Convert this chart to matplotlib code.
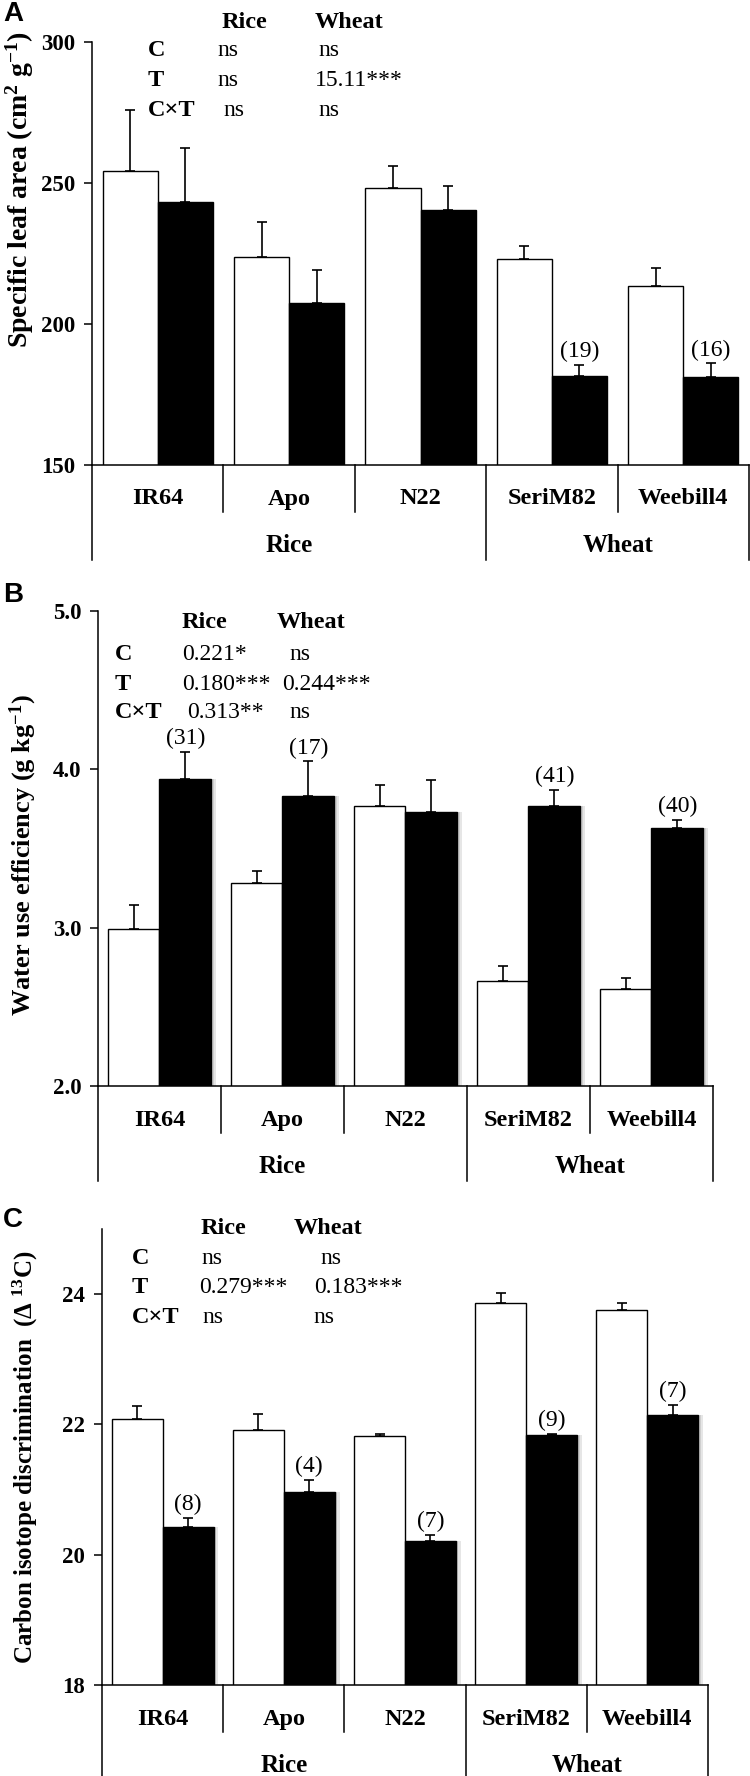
import matplotlib
matplotlib.use("Agg")
from matplotlib import pyplot as plt
from matplotlib.transforms import blended_transform_factory

W, H = 750, 1776

plt.rcParams['font.family'] = ['Liberation Serif', 'DejaVu Serif']
plt.rcParams['mathtext.fontset'] = 'custom'
plt.rcParams['mathtext.rm'] = 'Liberation Serif:bold'
plt.rcParams['mathtext.it'] = 'Liberation Serif:bold'
plt.rcParams['mathtext.bf'] = 'Liberation Serif:bold'

cultivars = ["IR64", "Apo", "N22", "SeriM82", "Weebill4"]
groups = ["Rice", "Wheat"]
group_centers = [1.0, 3.5]

# A - specific leaf area
sla_white = [254.3, 223.7, 248.3, 223.1, 213.6]
sla_white_err = [21.6, 12.3, 7.9, 4.5, 6.2]
sla_black = [243.3, 207.6, 240.5, 181.6, 181.2]
sla_black_err = [19.1, 11.6, 8.3, 3.9, 4.8]
sla_n = ["", "", "", "(19)", "(16)"]
sla_stats = [["ns", "ns"], ["ns", "15.11***"], ["ns", "ns"]]

# B - water use efficiency
wue_white = [2.99, 3.28, 3.77, 2.66, 2.61]
wue_white_err = [0.15, 0.08, 0.13, 0.10, 0.07]
wue_black = [3.94, 3.83, 3.73, 3.77, 3.63]
wue_black_err = [0.17, 0.22, 0.20, 0.10, 0.05]
wue_n = ["(31)", "(17)", "", "(41)", "(40)"]
wue_stats = [["0.221*", "ns"], ["0.180***", "0.244***"], ["0.313**", "ns"]]

# C - carbon isotope discrimination
cid_white = [22.09, 21.92, 21.83, 23.86, 23.76]
cid_white_err = [0.19, 0.24, 0.03, 0.15, 0.10]
cid_black = [20.43, 20.96, 20.21, 21.84, 22.14]
cid_black_err = [0.13, 0.19, 0.10, 0.02, 0.16]
cid_n = ["(8)", "(4)", "(7)", "(9)", "(7)"]
cid_stats = [["ns", "ns"], ["0.279***", "0.183***"], ["ns", "ns"]]

row_names = ["C", "T", "C×T"]


def fx(x):
    return x / W


def fy(y):
    return 1 - y / H


def make_axes(fig, left, top, right, bottom):
    return fig.add_axes([fx(left), fy(bottom), (right - left) / W, (bottom - top) / H])


def draw_panel(ax, box, ylim, yticks, ticklabels, white, werr, black, berr, nlab, shadow=False):
    left, top, right, bottom = box
    hpx = bottom - top
    x = list(range(len(cultivars)))
    w = 0.42
    xw = [i - w / 2 for i in x]
    xb = [i + w / 2 for i in x]

    if shadow:
        ax.bar([v + 0.04 for v in xb], black, width=w, color='#e6e6e6', zorder=1)
        ax.bar([v + 0.02 for v in xb], black, width=w, color='#cfcfcf', zorder=1)
    ax.bar(xw, white, width=w, color='white', edgecolor='black', linewidth=1.0, zorder=2)
    ax.bar(xb, black, width=w, color='black', edgecolor='black', linewidth=1.0, zorder=2)
    ax.errorbar(xw, white, yerr=[[0] * 5, werr], fmt='none', ecolor='black',
                elinewidth=1.2, capsize=3.4, capthick=1.2, zorder=3)
    ax.errorbar(xb, black, yerr=[[0] * 5, berr], fmt='none', ecolor='black',
                elinewidth=1.2, capsize=3.4, capthick=1.2, zorder=3)
    for xi, yi, ei, t in zip(xb, black, berr, nlab):
        if t:
            ax.annotate(t, (xi, yi + ei), xytext=(0, 2), textcoords='offset points',
                        ha='center', va='bottom', fontsize=17)

    ax.set_xlim(-0.5, 4.5)
    ax.set_ylim(*ylim)
    ax.set_yticks(yticks)
    ax.set_yticklabels(ticklabels, fontsize=16.5, fontweight='bold')
    ax.set_xticks([])
    ax.tick_params(axis='y', direction='out', length=6, width=1.1, pad=6)
    for s in ['top', 'right']:
        ax.spines[s].set_visible(False)
    ax.spines['left'].set_linewidth(1.1)
    ax.spines['bottom'].set_linewidth(1.1)

    # category / group axis below the bars
    tr = blended_transform_factory(ax.transData, ax.transAxes)
    def yoff(px):
        return -px / hpx
    for xd in [0.5, 1.5, 3.5]:
        ax.plot([xd, xd], [0, yoff(47)], color='black', lw=1.1, transform=tr, clip_on=False)
    for xd in [-0.5, 2.5, 4.5]:
        ax.plot([xd, xd], [0, yoff(95)], color='black', lw=1.1, transform=tr, clip_on=False)
    for i, name in enumerate(cultivars):
        ax.text(i, yoff(34), name, transform=tr, ha='center', va='center',
                fontsize=17.5, fontweight='bold')
    for xc, g in zip(group_centers, groups):
        ax.text(xc, yoff(80), g, transform=tr, ha='center', va='center',
                fontsize=18, fontweight='bold')


def draw_stats(fig, xlab, xvals, yhead, yrows, stats, xhdr):
    fig.text(fx(xhdr[0]), fy(yhead), "Rice", ha='left', va='center', fontsize=17.5, fontweight='bold')
    fig.text(fx(xhdr[1]), fy(yhead), "Wheat", ha='left', va='center', fontsize=17.5, fontweight='bold')
    for k, (rn, vals) in enumerate(zip(row_names, stats)):
        y = yrows[k]
        fig.text(fx(xlab), fy(y), rn, ha='left', va='center', fontsize=17.5, fontweight='bold')
        fig.text(fx(xvals[k][0]), fy(y), vals[0], ha='left', va='center', fontsize=17)
        fig.text(fx(xvals[k][1]), fy(y), vals[1], ha='left', va='center', fontsize=17)


fig = plt.figure(figsize=(W / 100, H / 100), dpi=100)

# panel A
boxA = (92, 42, 749, 465)
axA = make_axes(fig, *boxA)
draw_panel(axA, boxA, (150, 300), [150, 200, 250, 300], ["150", "200", "250", "300"],
           sla_white, sla_white_err, sla_black, sla_black_err, sla_n)
fig.text(fx(20), fy(190), "Specific leaf area (cm$^{2}$ g$^{-1}$)", rotation=90,
         ha='center', va='center', fontsize=20, fontweight='bold')
draw_stats(fig, 148, [(217, 318), (217, 315), (223, 318)], 22, [50, 81, 110], sla_stats, (222, 315))
fig.text(fx(3), fy(14), "A", fontsize=20, fontweight='bold', family='Liberation Sans',
         ha='left', va='center')

# panel B
boxB = (98, 611, 713, 1086)
axB = make_axes(fig, *boxB)
draw_panel(axB, boxB, (2.0, 5.0), [2.0, 3.0, 4.0, 5.0], ["2.0", "3.0", "4.0", "5.0"],
           wue_white, wue_white_err, wue_black, wue_black_err, wue_n, shadow=True)
fig.text(fx(23), fy(855), "Water use efficiency (g kg$^{-1}$)", rotation=90,
         ha='center', va='center', fontsize=19, fontweight='bold')
draw_stats(fig, 115, [(182, 289), (182, 282), (187, 289)], 623, [654, 685, 712], wue_stats, (182, 277))
fig.text(fx(3), fy(595), "B", fontsize=20, fontweight='bold', family='Liberation Sans',
         ha='left', va='center')

# panel C
boxC = (102, 1229, 708, 1685)
axC = make_axes(fig, *boxC)
draw_panel(axC, boxC, (18, 25), [18, 20, 22, 24], ["18", "20", "22", "24"],
           cid_white, cid_white_err, cid_black, cid_black_err, cid_n, shadow=True)
fig.text(fx(25), fy(1457), "Carbon isotope discrimination  ($\\Delta$ $^{13}$C)", rotation=90,
         ha='center', va='center', fontsize=18, fontweight='bold')
draw_stats(fig, 132, [(201, 320), (199, 314), (202, 313)], 1228, [1258, 1287, 1317], cid_stats, (201, 294))
fig.text(fx(3), fy(1220), "C", fontsize=20, fontweight='bold', family='Liberation Sans',
         ha='left', va='center')

fig.savefig("out.png", dpi=100)
